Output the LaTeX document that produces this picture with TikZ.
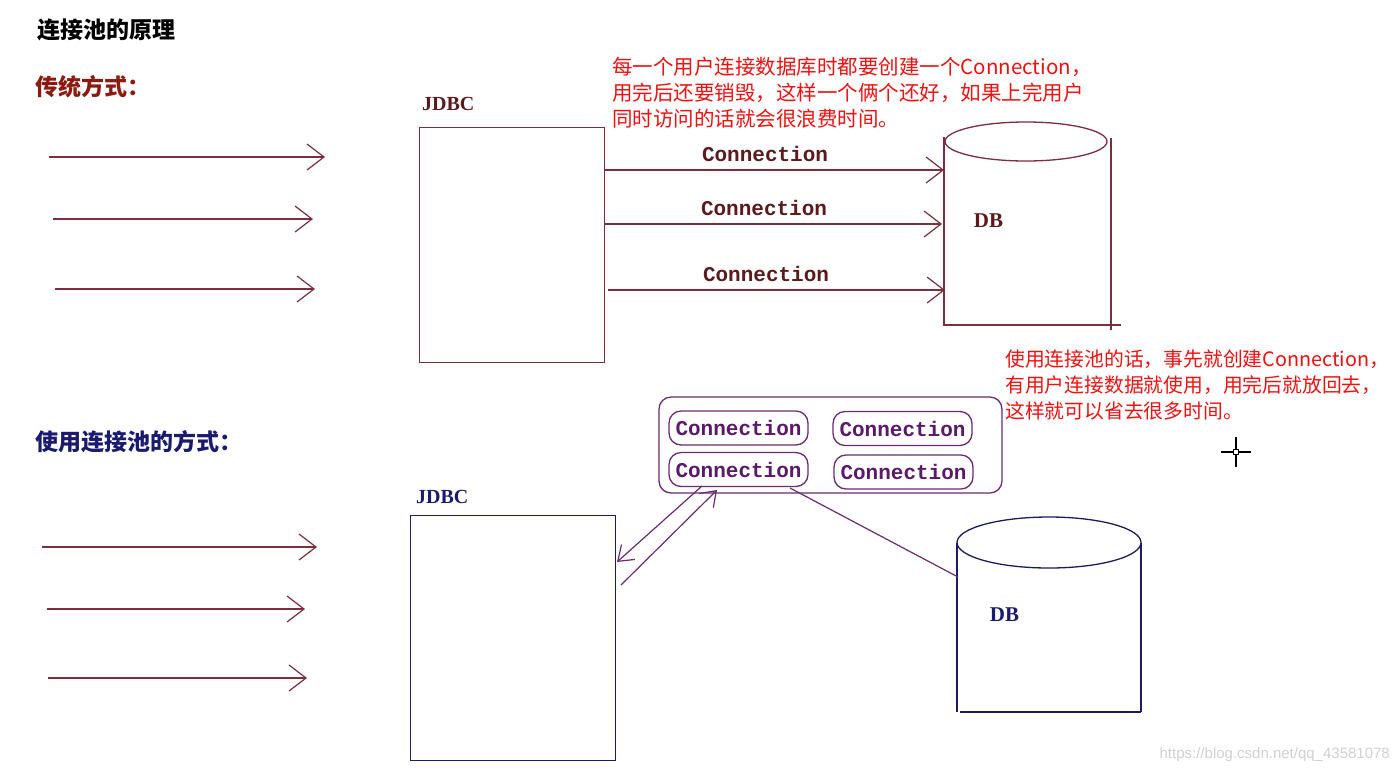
\documentclass[tikz,border=0pt]{standalone}
\usepackage{fontspec}
\usetikzlibrary{arrows.meta}
\newfontfamily\cjk{Noto Sans CJK SC}
\newfontfamily\monofam{Liberation Mono}
\newfontfamily\seriffam{Liberation Serif}
\definecolor{maroon}{HTML}{7A2E3E}
\definecolor{maroontext}{HTML}{5A1A1E}
\definecolor{navy}{HTML}{1C1C5E}
\definecolor{navytext}{HTML}{1A1A6E}
\definecolor{pool}{HTML}{6A2C70}
\definecolor{pooltext}{HTML}{5A1A6A}
\definecolor{brownred}{HTML}{8B1A10}
\definecolor{note}{HTML}{EE1111}
\tikzset{
  chev/.tip={Straight Barb[length=17pt,width=26pt,line width=1.2pt]},
  smallchev/.tip={Straight Barb[length=14pt,width=20pt,line width=1.2pt]},
  ttl/.style={font=\cjk\bfseries\fontsize{23}{27}\selectfont, anchor=base west, inner sep=0},
  notetext/.style={font=\cjk\fontsize{20.5}{26}\selectfont, text=note, anchor=base west, inner sep=0},
  notetextb/.style={font=\cjk\fontsize{19.8}{26}\selectfont, text=note, anchor=base west, inner sep=0},
  conlabel/.style={font=\monofam\bfseries\fontsize{21}{24}\selectfont, text=maroontext, anchor=base, inner sep=0},
  jdbclabel/.style={font=\seriffam\bfseries\fontsize{20}{24}\selectfont, anchor=base west, inner sep=0},
  dblabel/.style={font=\seriffam\bfseries\fontsize{21}{24}\selectfont, anchor=base, inner sep=0},
  flow/.style={draw=maroon, line width=1.3pt, -chev},
  cbox/.style={draw=pool, line width=1.3pt, rounded corners=12pt, minimum width=139pt, minimum height=34pt, inner sep=0, font=\monofam\bfseries\fontsize{21}{24}\selectfont, text=pooltext},
  jbox/.style={line width=1.3pt, minimum width=#1, anchor=north west, inner sep=0},
}
\begin{document}
\begin{tikzpicture}[x=1pt,y=-1pt]
\fill[white] (0,0) rectangle (1399,772);
\useasboundingbox (0,0) rectangle (1399,772);

% titles
\node[ttl, text=black] (title) at (37,38.5) {连接池的原理};
\node[ttl, text=brownred] (trad) at (35,95) {传统方式：};
\node[ttl, text=navytext] (poolway) at (35,450) {使用连接池的方式：};

% notes
\node[notetext] (n1a) at (612,74) {每一个用户连接数据库时都要创建一个Connection，};
\node[notetext] (n1b) at (612,100) {用完后还要销毁，这样一个俩个还好，如果上完用户};
\node[notetext] (n1c) at (612,126) {同时访问的话就会很浪费时间。};
\node[notetextb] (n2a) at (1005,366) {使用连接池的话，事先就创建Connection，};
\node[notetextb] (n2b) at (1005,392) {有用户连接数据就使用，用完后就放回去，};
\node[notetextb] (n2c) at (1005,418) {这样就可以省去很多时间。};

% ---------- top: traditional ----------
\coordinate (a1s) at (49,157); \coordinate (a1e) at (325,157);
\coordinate (a2s) at (53,219); \coordinate (a2e) at (313,219);
\coordinate (a3s) at (55,289); \coordinate (a3e) at (315,289);
\draw[flow] (a1s) -- (a1e);
\draw[flow] (a2s) -- (a2e);
\draw[flow] (a3s) -- (a3e);

\node[draw=maroon, jbox=185pt, minimum height=235pt] (jdbc1) at (419,127) {};
\node[jdbclabel, text=maroontext] (jdbc1l) at (422,110) {JDBC};

% DB cylinder (top)
\draw[maroon, line width=1.3pt] (944,137) -- (944,325) -- (1121,325);
\draw[maroon, line width=1.3pt] (1111,138) -- (1111,330);
\draw[maroon, line width=1.3pt] (1026,141.5) ellipse [x radius=81, y radius=19.5];
\node[dblabel, text=maroontext] (db1) at (988.5,227) {DB};
\coordinate (db1l1) at (944,170);
\coordinate (db1l2) at (942,224);
\coordinate (db1l3) at (945,290);

\draw[flow] (jdbc1.east |- db1l1) -- (db1l1);
\draw[flow] (jdbc1.east |- db1l2) -- (db1l2);
\draw[flow] ([xshift=3pt]jdbc1.east |- db1l3) -- (db1l3);
\node[conlabel] (con1) at (765,161) {Connection};
\node[conlabel] (con2) at (764,215) {Connection};
\node[conlabel] (con3) at (766,281) {Connection};

% ---------- bottom: pool ----------
\coordinate (b1s) at (42,547); \coordinate (b1e) at (317,547);
\coordinate (b2s) at (47,609); \coordinate (b2e) at (305,609);
\coordinate (b3s) at (48,678); \coordinate (b3e) at (307,678);
\draw[flow] (b1s) -- (b1e);
\draw[flow] (b2s) -- (b2e);
\draw[flow] (b3s) -- (b3e);

\node[draw=navy, jbox=205pt, minimum height=245pt] (jdbc2) at (410,515) {};
\node[jdbclabel, text=navytext] (jdbc2l) at (416,503) {JDBC};

\node[draw=pool, line width=1.3pt, rounded corners=12pt, minimum width=343pt, minimum height=96pt, inner sep=0] (poolbox) at (830.5,445) {};
\node[cbox] (c1) at (738.5,428) {Connection};
\node[cbox] (c2) at (902.5,428.5) {Connection};
\node[cbox] (c3) at (738.5,469.5) {Connection};
\node[cbox] (c4) at (903.5,472) {Connection};

% DB cylinder (bottom)
\draw[navy, line width=1.3pt] (957,542.5) -- (957,712);
\draw[navy, line width=1.3pt] (1141,542.5) -- (1141,712);
\draw[navy, line width=1.3pt] (960,712) -- (1141,712);
\draw[navy, line width=1.3pt] (1049,542.5) ellipse [x radius=92, y radius=25.5];
\node[dblabel, text=navytext] (db2) at (1004.5,621) {DB};

% pool <-> JDBC
\coordinate (p1s) at (702,486);
\coordinate (p1e) at (617,562);
\coordinate (p2s) at (621,585);
\coordinate (p2e) at (717,490);
\draw[pool, line width=1.2pt, -smallchev] (p1s) -- (p1e);
\draw[pool, line width=1.2pt, -smallchev] (p2s) -- (p2e);
% pool -- DB
\coordinate (p3s) at (790,488);
\coordinate (p3e) at (958,577);
\draw[pool, line width=1.2pt] (p3s) -- (p3e);

% cursor
\coordinate (cur) at (1236,452);
\draw[black, line width=1.5pt] ([xshift=-15pt]cur) -- ([xshift=15pt]cur);
\draw[black, line width=1.5pt] ([yshift=-15pt]cur) -- ([yshift=15pt]cur);
\node[draw=black, fill=white, line width=1pt, minimum size=5pt, inner sep=0] (curbox) at (cur) {};

% watermark
\node[font=\fontspec{Liberation Sans}\fontsize{15}{18}\selectfont, text=black!18, anchor=base east, inner sep=0] (wm) at (1390,758) {https://blog.csdn.net/qq\_43581078};
\end{tikzpicture}
\end{document}
